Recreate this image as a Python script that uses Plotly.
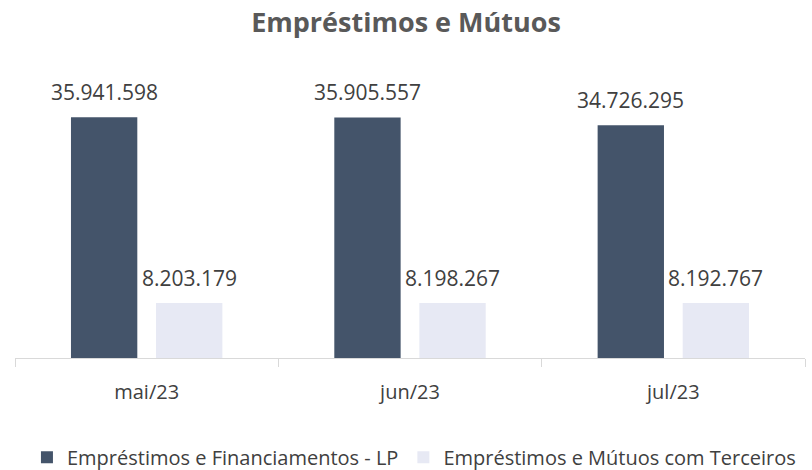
import plotly.graph_objects as go

meses = ["mai/23", "jun/23", "jul/23"]
emprestimos_lp = [35941598, 35905557, 34726295]
mutuos_terceiros = [8203179, 8198267, 8192767]
nomes = ["Empréstimos e Financiamentos - LP", "Empréstimos e Mútuos com Terceiros"]
cores = ["#44546A", "#E7E9F4"]


def fmt(v):
    return f"{v:,}".replace(",", ".")


fig = go.Figure()
for nome, serie, cor in zip(nomes, [emprestimos_lp, mutuos_terceiros], cores):
    fig.add_trace(go.Bar(x=meses, y=serie, name=nome, marker_color=cor,
                         marker_line_width=0, hoverinfo="skip"))

# rotulos de valor acima das barras
for shift, serie in zip([-42.5, 42.5], [emprestimos_lp, mutuos_terceiros]):
    for m, v in zip(meses, serie):
        fig.add_annotation(x=m, y=v, text=fmt(v), showarrow=False, xshift=shift,
                           yshift=25, yanchor="middle",
                           font=dict(size=21, color="#404040"))

fig.update_layout(
    width=812, height=470,
    margin=dict(l=15, r=7, t=90, b=112, autoexpand=False),
    plot_bgcolor="white", paper_bgcolor="white",
    font=dict(family="Open Sans", color="#404040"),
    title=dict(text="<b>Empréstimos e Mútuos</b>", x=0.5, xanchor="center",
               y=1 - 23 / 470, yanchor="middle", yref="container",
               font=dict(size=27, color="#595959")),
    barmode="group", bargap=0.354, bargroupgap=0.22,
    showlegend=True,
    legend=dict(orientation="h", x=0.505, xanchor="center",
                y=-0.37, yanchor="middle", font=dict(size=20, color="#404040"),
                itemwidth=30, traceorder="normal", itemclick=False),
)
fig.update_xaxes(showline=True, linecolor="#D9D9D9", linewidth=1,
                 ticks="outside", tickson="boundaries", ticklen=8,
                 tickcolor="#D9D9D9", tickfont=dict(size=20, color="#404040"),
                 ticklabelstandoff=16, automargin=False, showgrid=False)
fig.update_yaxes(range=[0, 40000000], visible=False, showgrid=False)

# a pagina tem margem padrao de 8px no body
fig.write_html("out.html", config={"displayModeBar": False},
               post_script="document.body.style.margin='0';")
